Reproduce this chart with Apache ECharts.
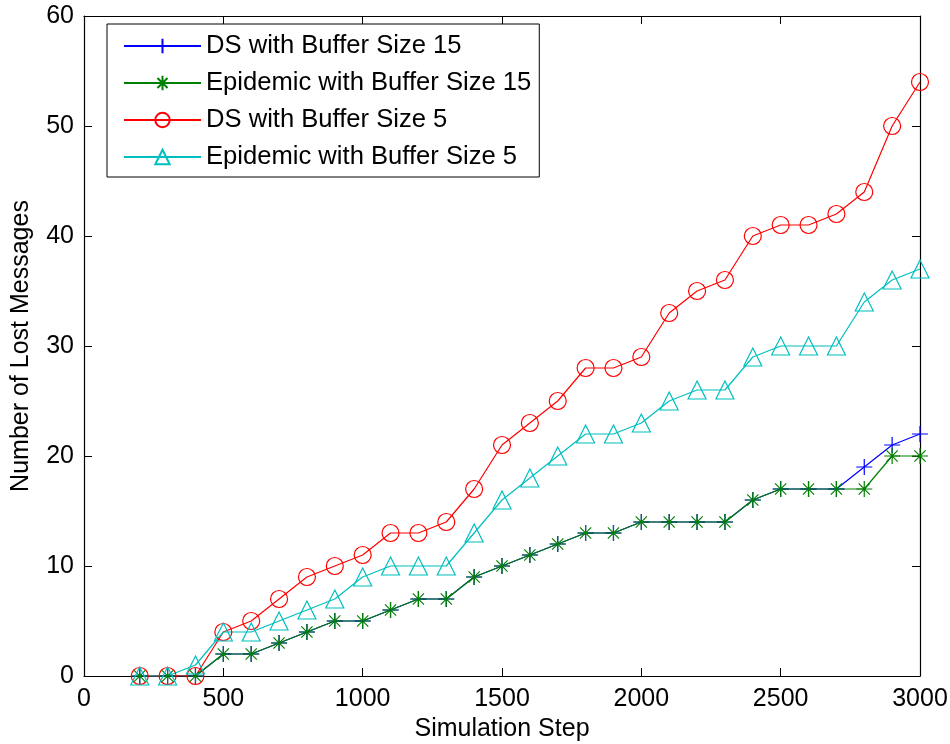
<!DOCTYPE html>
<html>
<head>
<meta charset="utf-8">
<script src="https://cdn.jsdelivr.net/npm/echarts@6/dist/echarts.min.js"></script>
<style>
  html, body { margin: 0; padding: 0; background: #fff; }
  #chart { width: 950px; height: 744px; }
</style>
</head>
<body>
<div id="chart"></div>
<script>
const steps = [200, 300, 400, 500, 600, 700, 800, 900, 1000, 1100, 1200, 1300, 1400, 1500, 1600,
    1700, 1800, 1900, 2000, 2100, 2200, 2300, 2400, 2500, 2600, 2700, 2800, 2900, 3000];
const dsBuf15 = [0, 0, 0, 2, 2, 3, 4, 5, 5, 6, 7, 7, 9, 10, 11, 12, 13, 13, 14, 14, 14, 14, 16, 17, 17, 17, 19, 21, 22];
const epiBuf15 = [0, 0, 0, 2, 2, 3, 4, 5, 5, 6, 7, 7, 9, 10, 11, 12, 13, 13, 14, 14, 14, 14, 16, 17, 17, 17, 17, 20, 20];
const dsBuf5 = [0, 0, 0, 4, 5, 7, 9, 10, 11, 13, 13, 14, 17, 21, 23, 25, 28, 28, 29, 33, 35, 36, 40, 41, 41, 42, 44, 50, 54];
const epiBuf5 = [0, 0, 1, 4, 4, 5, 6, 7, 9, 10, 10, 10, 13, 16, 18, 20, 22, 22, 23, 25, 26, 26, 29, 30, 30, 30, 34, 36, 37];
const seriesNames = ['DS with Buffer Size 15', 'Epidemic with Buffer Size 15', 'DS with Buffer Size 5', 'Epidemic with Buffer Size 5'];

const font = 'Liberation Sans, Arial, Helvetica, sans-serif';
const plusPath = 'path://M0,-1L0,1M-1,0L1,0';
const starPath = 'path://M0,-1L0,1M-1,0L1,0M-0.7,-0.7L0.7,0.7M-0.7,0.7L0.7,-0.7';

const pairs = (ys) => steps.map((x, i) => [x, ys[i]]);

function makeSeries(name, ys, color, symbol, size) {
    return {
        name: name,
        type: 'line',
        xAxisIndex: 0,
        yAxisIndex: 0,
        data: pairs(ys),
        symbol: symbol,
        symbolSize: size,
        symbolKeepAspect: true,
        showAllSymbol: true,
        animation: false,
        lineStyle: { color: color, width: 1.2 },
        itemStyle: { color: 'rgba(0,0,0,0)', borderColor: color, borderWidth: 1.2 }
    };
}

function frameAxis(extra) {
    return Object.assign({
        type: 'value',
        axisLine: { show: true, onZero: false, lineStyle: { color: '#000', width: 1.2 } },
        axisTick: { show: true, inside: true, length: 8, lineStyle: { color: '#000', width: 1 } },
        splitLine: { show: false }
    }, extra);
}

const labelStyle = { fontFamily: font, fontSize: 25, color: '#000' };

const chart = echarts.init(document.getElementById('chart'));
chart.setOption({
    backgroundColor: '#fff',
    animation: false,
    grid: { left: 84, right: 30, top: 16, bottom: 68, containLabel: false, outerBoundsMode: 'none' },
    legend: {
        left: 107, top: 24,
        orient: 'vertical',
        data: seriesNames,
        itemWidth: 77,
        itemHeight: 18,
        itemGap: 11,
        padding: [9, 8, 7, 16],
        backgroundColor: '#fff',
        borderColor: '#000',
        borderWidth: 1,
        borderRadius: 0,
        textStyle: { fontFamily: font, fontSize: 25.6, color: '#000', lineHeight: 26 }
    },
    xAxis: [frameAxis({
        position: 'bottom', min: 0, max: 3000, interval: 500,
        name: 'Simulation Step', nameLocation: 'middle', nameGap: 40,
        nameTextStyle: labelStyle,
        axisLabel: Object.assign({ show: true, margin: 11, formatter: v => String(v) }, labelStyle)
    }), frameAxis({
        position: 'top', min: 0, max: 3000, interval: 500,
        axisLabel: { show: false }
    })],
    yAxis: [frameAxis({
        position: 'left', min: 0, max: 60, interval: 10,
        name: 'Number of Lost Messages', nameLocation: 'middle', nameGap: 50,
        nameTextStyle: labelStyle,
        axisLabel: Object.assign({ show: true, margin: 10 }, labelStyle)
    }), frameAxis({
        position: 'right', min: 0, max: 60, interval: 10,
        axisLabel: { show: false }
    })],
    series: [
        makeSeries(seriesNames[0], dsBuf15, '#0000ff', plusPath, 16),
        makeSeries(seriesNames[1], epiBuf15, '#008000', starPath, 16),
        makeSeries(seriesNames[2], dsBuf5, '#ff0000', 'circle', 17),
        makeSeries(seriesNames[3], epiBuf5, '#00bfbf', 'triangle', 18)
    ]
});
</script>
</body>
</html>
